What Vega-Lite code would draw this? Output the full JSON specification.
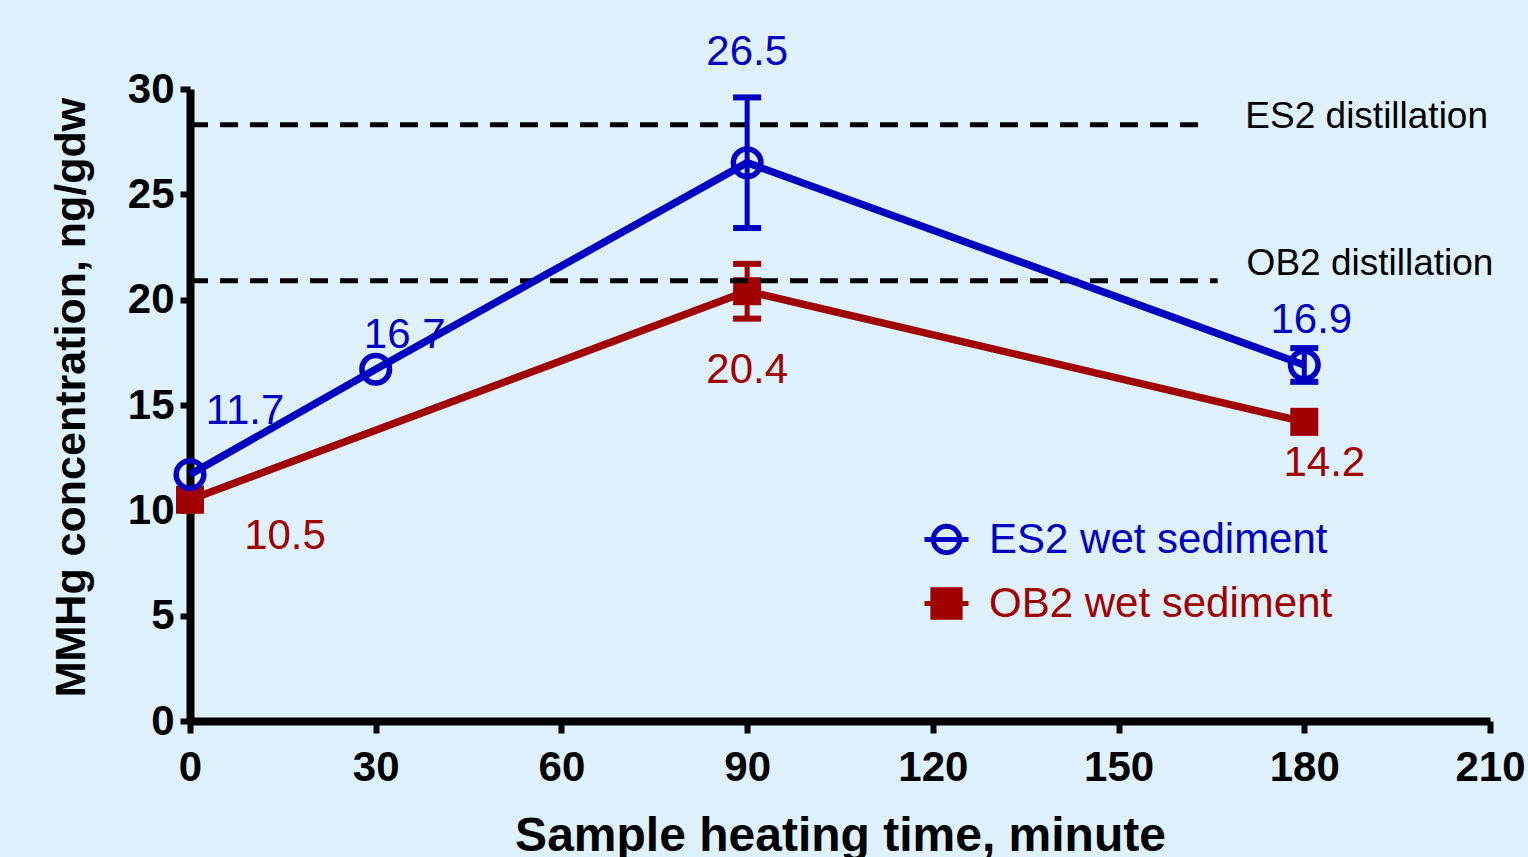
{
  "$schema": "https://vega.github.io/schema/vega-lite/v6.json",
  "width": 1300,
  "height": 632,
  "autosize": {"type": "none"},
  "padding": {"left": 190, "top": 89, "right": 38, "bottom": 136},
  "background": "#DEF1FD",
  "config": {
    "view": {"stroke": null},
    "font": "Liberation Sans",
    "axis": {
      "grid": false,
      "domainColor": "#000000",
      "domainWidth": 8,
      "tickColor": "#000000",
      "tickWidth": 6,
      "labelFlush": false,
      "labelFont": "Liberation Sans",
      "labelFontWeight": "bold",
      "labelFontSize": 42,
      "labelColor": "#000000",
      "titleFont": "Liberation Sans",
      "titleFontWeight": "bold",
      "titleColor": "#000000"
    },
    "axisX": {"tickSize": 12, "labelPadding": 14, "titleFontSize": 48, "titlePadding": 24},
    "axisY": {"tickSize": 10, "labelPadding": 6, "titleFontSize": 43, "titlePadding": 34}
  },
  "datasets": {
    "obs": [
      {"series": "ES2 wet sediment", "time": 0, "mean": 11.7, "lo": null, "hi": null},
      {"series": "ES2 wet sediment", "time": 30, "mean": 16.7, "lo": null, "hi": null},
      {"series": "ES2 wet sediment", "time": 90, "mean": 26.5, "lo": 23.4, "hi": 29.6},
      {"series": "ES2 wet sediment", "time": 180, "mean": 16.9, "lo": 16.1, "hi": 17.7},
      {"series": "OB2 wet sediment", "time": 0, "mean": 10.5, "lo": null, "hi": null},
      {"series": "OB2 wet sediment", "time": 90, "mean": 20.4, "lo": 19.1, "hi": 21.7},
      {"series": "OB2 wet sediment", "time": 180, "mean": 14.2, "lo": null, "hi": null}
    ],
    "distill": [
      {"name": "ES2 distillation", "level": 28.3, "start": 0, "end": 164.5},
      {"name": "OB2 distillation", "level": 20.9, "start": 0, "end": 166}
    ]
  },
  "layer": [
    {
      "data": {"name": "obs"},
      "transform": [{"filter": "datum.series == 'OB2 wet sediment'"}],
      "mark": {"type": "line", "strokeWidth": 7.5},
      "encoding": {
        "x": {"field": "time", "type": "quantitative", "scale": {"domain": [0, 210], "nice": false, "zero": false},
              "axis": {"values": [0, 30, 60, 90, 120, 150, 180, 210], "title": "Sample heating time, minute"}},
        "y": {"field": "mean", "type": "quantitative", "scale": {"domain": [0, 30], "nice": false},
              "axis": {"values": [0, 5, 10, 15, 20, 25, 30], "title": "MMHg concentration, ng/gdw", "titleY": 308}},
        "color": {"field": "series", "type": "nominal",
          "scale": {"domain": ["ES2 wet sediment", "OB2 wet sediment"], "range": ["#0000C0", "#A00000"]},
          "legend": {
            "title": null, "orient": "none", "legendX": 732, "legendY": 426, "padding": 0,
            "symbolSize": 1936, "symbolStrokeWidth": 5, "labelFontSize": 42, "labelFont": "Liberation Sans",
            "labelOffset": 18, "rowPadding": 16, "labelLimit": 600,
            "encode": {
              "symbols": {"update": {
                "shape": {"signal": "datum.value == 'OB2 wet sediment' ? 'M-0.62,-0.62L0.62,-0.62L0.62,0.62L-0.62,0.62ZM-1,0L1,0' : 'M-0.6,0A0.6,0.6 0 1,1 0.6,0A0.6,0.6 0 1,1 -0.6,0M-1,0L1,0'"},
                "fill": {"signal": "datum.value == 'OB2 wet sediment' ? '#A00000' : 'transparent'"},
                "fillOpacity": {"signal": "datum.value == 'OB2 wet sediment' ? 1 : 0"},
                "stroke": {"signal": "datum.value == 'OB2 wet sediment' ? '#A00000' : '#0000C0'"},
                "strokeWidth": {"value": 5},
                "opacity": {"value": 1}
              }},
              "labels": {"update": {
                "fill": {"signal": "datum.value == 'OB2 wet sediment' ? '#A00000' : '#0000C0'"}
              }}
            }
          }}
      }
    },
    {
      "data": {"name": "obs"},
      "transform": [{"filter": "datum.series == 'OB2 wet sediment' && datum.lo != null"}],
      "mark": {"type": "rule", "strokeWidth": 5},
      "encoding": {
        "x": {"field": "time", "type": "quantitative"},
        "y": {"field": "lo", "type": "quantitative"},
        "y2": {"field": "hi"},
        "color": {"field": "series", "type": "nominal"}
      }
    },
    {
      "data": {"name": "obs"},
      "transform": [{"filter": "datum.series == 'OB2 wet sediment' && datum.lo != null"}],
      "mark": {"type": "tick", "orient": "horizontal", "size": 28, "thickness": 6, "opacity": 1},
      "encoding": {
        "x": {"field": "time", "type": "quantitative"},
        "y": {"field": "lo", "type": "quantitative"},
        "color": {"field": "series", "type": "nominal"}
      }
    },
    {
      "data": {"name": "obs"},
      "transform": [{"filter": "datum.series == 'OB2 wet sediment' && datum.hi != null"}],
      "mark": {"type": "tick", "orient": "horizontal", "size": 28, "thickness": 6, "opacity": 1},
      "encoding": {
        "x": {"field": "time", "type": "quantitative"},
        "y": {"field": "hi", "type": "quantitative"},
        "color": {"field": "series", "type": "nominal"}
      }
    },
    {
      "data": {"name": "obs"},
      "transform": [{"filter": "datum.series == 'OB2 wet sediment'"}],
      "mark": {"type": "point", "shape": "square", "filled": true, "size": 784, "opacity": 1},
      "encoding": {
        "x": {"field": "time", "type": "quantitative"},
        "y": {"field": "mean", "type": "quantitative"},
        "color": {"field": "series", "type": "nominal"}
      }
    },
    {
      "data": {"name": "distill"},
      "mark": {"type": "rule", "strokeWidth": 5, "strokeDash": [18, 12], "color": "#000000"},
      "encoding": {
        "x": {"field": "start", "type": "quantitative"},
        "x2": {"field": "end"},
        "y": {"field": "level", "type": "quantitative"}
      }
    },
    {
      "data": {"name": "distill"},
      "transform": [{"filter": "datum.name == 'ES2 distillation'"}],
      "mark": {"type": "text", "align": "left", "baseline": "middle", "fontSize": 37, "dx": 37, "dy": -8, "color": "#000000"},
      "encoding": {
        "x": {"field": "end", "type": "quantitative"},
        "y": {"field": "level", "type": "quantitative"},
        "text": {"field": "name"}
      }
    },
    {
      "data": {"name": "distill"},
      "transform": [{"filter": "datum.name == 'OB2 distillation'"}],
      "mark": {"type": "text", "align": "left", "baseline": "middle", "fontSize": 37, "dx": 29, "dy": -17, "color": "#000000"},
      "encoding": {
        "x": {"field": "end", "type": "quantitative"},
        "y": {"field": "level", "type": "quantitative"},
        "text": {"field": "name"}
      }
    },
    {
      "data": {"name": "obs"},
      "transform": [{"filter": "datum.series == 'ES2 wet sediment'"}],
      "mark": {"type": "line", "strokeWidth": 7.5},
      "encoding": {
        "x": {"field": "time", "type": "quantitative"},
        "y": {"field": "mean", "type": "quantitative"},
        "color": {"field": "series", "type": "nominal"}
      }
    },
    {
      "data": {"name": "obs"},
      "transform": [{"filter": "datum.series == 'ES2 wet sediment' && datum.lo != null"}],
      "mark": {"type": "rule", "strokeWidth": 5},
      "encoding": {
        "x": {"field": "time", "type": "quantitative"},
        "y": {"field": "lo", "type": "quantitative"},
        "y2": {"field": "hi"},
        "color": {"field": "series", "type": "nominal"}
      }
    },
    {
      "data": {"name": "obs"},
      "transform": [{"filter": "datum.series == 'ES2 wet sediment' && datum.lo != null"}],
      "mark": {"type": "tick", "orient": "horizontal", "size": 28, "thickness": 6, "opacity": 1},
      "encoding": {
        "x": {"field": "time", "type": "quantitative"},
        "y": {"field": "lo", "type": "quantitative"},
        "color": {"field": "series", "type": "nominal"}
      }
    },
    {
      "data": {"name": "obs"},
      "transform": [{"filter": "datum.series == 'ES2 wet sediment' && datum.hi != null"}],
      "mark": {"type": "tick", "orient": "horizontal", "size": 28, "thickness": 6, "opacity": 1},
      "encoding": {
        "x": {"field": "time", "type": "quantitative"},
        "y": {"field": "hi", "type": "quantitative"},
        "color": {"field": "series", "type": "nominal"}
      }
    },
    {
      "data": {"name": "obs"},
      "transform": [{"filter": "datum.series == 'ES2 wet sediment'"}],
      "mark": {"type": "point", "shape": "circle", "filled": false, "size": 760, "strokeWidth": 5.5, "opacity": 1},
      "encoding": {
        "x": {"field": "time", "type": "quantitative"},
        "y": {"field": "mean", "type": "quantitative"},
        "color": {"field": "series", "type": "nominal"}
      }
    },
    {
      "data": {"name": "obs"},
      "transform": [{"filter": "datum.series == 'ES2 wet sediment' && datum.time == 90"}],
      "mark": {"type": "text", "align": "center", "baseline": "middle", "fontSize": 42, "dy": -111},
      "encoding": {
        "x": {"field": "time", "type": "quantitative"},
        "y": {"field": "mean", "type": "quantitative"},
        "text": {"field": "mean", "type": "quantitative", "format": ".1f"},
        "color": {"field": "series", "type": "nominal"}
      }
    },
    {
      "data": {"name": "obs"},
      "transform": [{"filter": "datum.series == 'ES2 wet sediment' && datum.time == 30"}],
      "mark": {"type": "text", "align": "center", "baseline": "middle", "fontSize": 42, "dx": 29, "dy": -34},
      "encoding": {
        "x": {"field": "time", "type": "quantitative"},
        "y": {"field": "mean", "type": "quantitative"},
        "text": {"field": "mean", "type": "quantitative", "format": ".1f"},
        "color": {"field": "series", "type": "nominal"}
      }
    },
    {
      "data": {"name": "obs"},
      "transform": [{"filter": "datum.series == 'ES2 wet sediment' && datum.time == 0"}],
      "mark": {"type": "text", "align": "center", "baseline": "middle", "fontSize": 42, "dx": 55, "dy": -64},
      "encoding": {
        "x": {"field": "time", "type": "quantitative"},
        "y": {"field": "mean", "type": "quantitative"},
        "text": {"field": "mean", "type": "quantitative", "format": ".1f"},
        "color": {"field": "series", "type": "nominal"}
      }
    },
    {
      "data": {"name": "obs"},
      "transform": [{"filter": "datum.series == 'ES2 wet sediment' && datum.time == 180"}],
      "mark": {"type": "text", "align": "center", "baseline": "middle", "fontSize": 42, "dx": 7, "dy": -45},
      "encoding": {
        "x": {"field": "time", "type": "quantitative"},
        "y": {"field": "mean", "type": "quantitative"},
        "text": {"field": "mean", "type": "quantitative", "format": ".1f"},
        "color": {"field": "series", "type": "nominal"}
      }
    },
    {
      "data": {"name": "obs"},
      "transform": [{"filter": "datum.series == 'OB2 wet sediment' && datum.time == 90"}],
      "mark": {"type": "text", "align": "center", "baseline": "middle", "fontSize": 42, "dy": 79},
      "encoding": {
        "x": {"field": "time", "type": "quantitative"},
        "y": {"field": "mean", "type": "quantitative"},
        "text": {"field": "mean", "type": "quantitative", "format": ".1f"},
        "color": {"field": "series", "type": "nominal"}
      }
    },
    {
      "data": {"name": "obs"},
      "transform": [{"filter": "datum.series == 'OB2 wet sediment' && datum.time == 0"}],
      "mark": {"type": "text", "align": "center", "baseline": "middle", "fontSize": 42, "dx": 95, "dy": 36},
      "encoding": {
        "x": {"field": "time", "type": "quantitative"},
        "y": {"field": "mean", "type": "quantitative"},
        "text": {"field": "mean", "type": "quantitative", "format": ".1f"},
        "color": {"field": "series", "type": "nominal"}
      }
    },
    {
      "data": {"name": "obs"},
      "transform": [{"filter": "datum.series == 'OB2 wet sediment' && datum.time == 180"}],
      "mark": {"type": "text", "align": "center", "baseline": "middle", "fontSize": 42, "dx": 20, "dy": 41},
      "encoding": {
        "x": {"field": "time", "type": "quantitative"},
        "y": {"field": "mean", "type": "quantitative"},
        "text": {"field": "mean", "type": "quantitative", "format": ".1f"},
        "color": {"field": "series", "type": "nominal"}
      }
    }
  ]
}
